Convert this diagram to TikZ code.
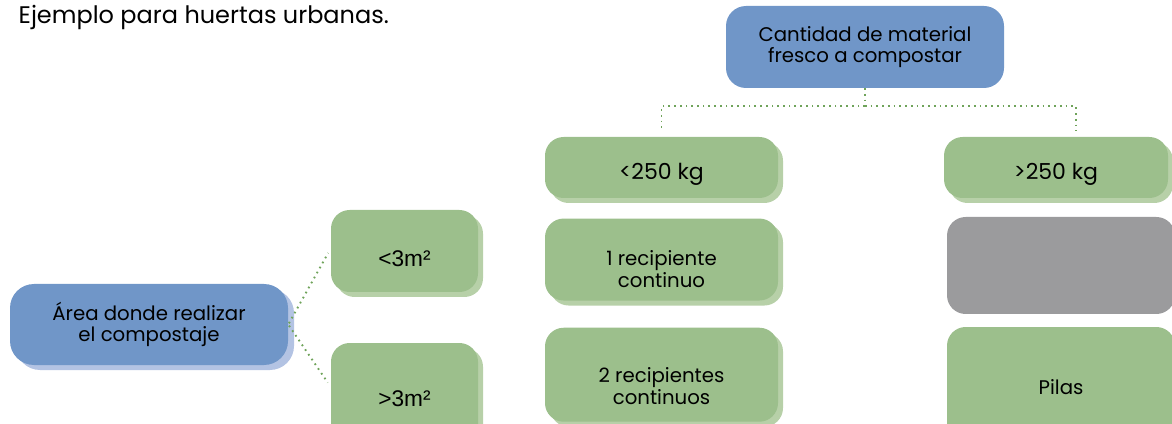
\documentclass[tikz,border=0pt]{standalone}
\usepackage{fontspec}
\setmainfont{Poppins}
\newfontfamily\arialfont{Liberation Sans}
\usetikzlibrary{positioning,shadows}
\definecolor{HuBlue}{HTML}{7096C8}
\definecolor{HuBlueSh}{HTML}{B3C3E3}
\definecolor{HuGreen}{HTML}{9CBF8C}
\definecolor{HuGreenSh}{HTML}{B7D0A8}
\definecolor{HuGrey}{HTML}{9B9B9D}
\definecolor{HuDots}{HTML}{6FA35A}
% invisible strut to push a label a bit lower in its box
\newcommand{\lowr}[1]{\rule{0pt}{#1}}

\begin{document}
\begin{tikzpicture}[x=0.75pt,y=-0.75pt]
  \tikzstyle{bluebox}=[fill=HuBlue,rounded corners=15pt,align=center,
    font=\fontsize{14.8}{16}\selectfont]
  \tikzstyle{greenbox}=[fill=HuGreen,rounded corners=14pt,align=center,
    general shadow={fill=HuGreenSh,shadow xshift=3.75pt,shadow yshift=-3.75pt},
    font=\fontsize{14.8}{16.5}\selectfont]
  \tikzstyle{kgtext}=[font=\fontsize{16.5}{18}\selectfont]
  \tikzstyle{mtext}=[font=\arialfont\fontsize{17}{18}\selectfont]
  \tikzstyle{greybox}=[fill=HuGrey,rounded corners=14pt]
  \tikzstyle{dotline}=[HuDots,line width=1.4pt,dash pattern=on 1.3pt off 3pt]
  \clip (0,0) rectangle (1172,424);
  \node[anchor=west,font=\fontsize{18}{20}\selectfont] (title) at (14,17) {Ejemplo para huertas urbanas.};
  % tamano del material
  \node[bluebox,minimum width=208.5pt,minimum height=61.5pt] (cant) at (865,47)
    {Cantidad de material\\fresco a compostar};
  \node[greenbox,kgtext,minimum width=174.75pt,minimum height=45.75pt] (lt250) at (661.5,167.5) {\lowr{23pt}<250 kg};
  \node[greenbox,minimum width=174.75pt,minimum height=61.5pt,below=15pt of lt250] (rec1)
    {\lowr{26pt}1 recipiente\\continuo};
  \node[greenbox,minimum width=174.75pt,minimum height=70.5pt,below=20pt of rec1] (rec2)
    {\lowr{28pt}2 recipientes\\continuos};
  \node[greenbox,kgtext,minimum width=168pt,minimum height=45.75pt] (gt250) at (1056,167.5) {\lowr{23pt}>250 kg};
  \node[greybox,minimum width=171pt,minimum height=72.75pt] (grey) at (1061,265.5) {};
  \node[greenbox,minimum width=171pt,minimum height=90pt] (pilas) at (1061,387) {Pilas};
  % area disponible
  \node[bluebox,rounded corners=18pt,minimum width=208.5pt,minimum height=60.75pt,
    general shadow={fill=HuBlueSh,shadow xshift=4.5pt,shadow yshift=-3.75pt}] (area) at (149,324.5)
    {Área donde realizar\\el compostaje};
  \node[greenbox,mtext,minimum width=110.25pt,minimum height=61.5pt] (lt3) at (404.5,251) {\lowr{23pt}<3m²};
  \node[greenbox,mtext,minimum width=110.25pt,minimum height=84pt] (gt3) at (404.5,399) {>3m²};
  \draw[dotline] (cant.south) -- ++(0,18) coordinate (hub);
  \draw[dotline,shorten >=4pt] (hub) -| (lt250.north);
  \draw[dotline,shorten >=4pt] (hub) -| ([xshift=15pt]gt250.north);
  \draw[dotline,shorten <=1pt,shorten >=4pt] (area.east) -- ([yshift=2pt]lt3.west);
  \draw[dotline,shorten <=1pt,shorten >=4pt] (area.east) -- ([yshift=9pt]gt3.west);
\end{tikzpicture}
\end{document}
